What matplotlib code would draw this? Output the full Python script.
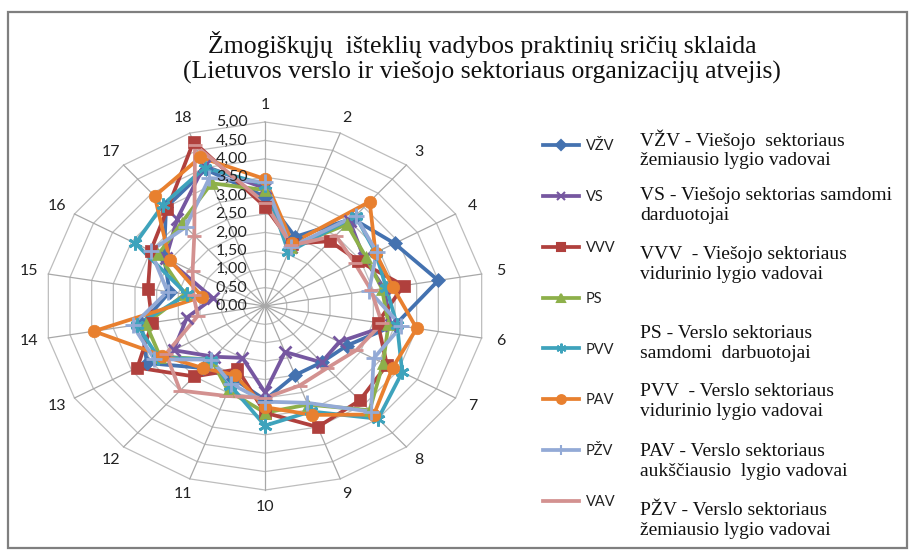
import numpy as np
import matplotlib
matplotlib.use("Agg")
import matplotlib.pyplot as plt
from matplotlib.patches import Rectangle
from matplotlib.lines import Line2D

axes_labels = [str(i) for i in range(1, 19)]
ring_values = [0.0, 0.5, 1.0, 1.5, 2.0, 2.5, 3.0, 3.5, 4.0, 4.5, 5.0]

series_names = ["VŽV", "VS", "VVV", "PS", "PVV", "PAV", "PŽV", "VAV"]

vzv = [2.97, 2.0, 3.1, 3.4, 4.0, 3.0, 2.15, 2.0, 2.0, 2.55, 2.1, 2.2, 3.1, 2.85, 2.2, 2.65, 3.5, 3.95]
vs = [3.2, 1.7, 3.0, 2.6, 2.75, 2.9, 1.95, 2.0, 1.33, 2.35, 1.5, 1.8, 2.4, 1.8, 1.2, 2.6, 3.1, 4.05]
vvv = [2.7, 1.8, 2.3, 2.45, 3.2, 2.6, 3.2, 3.35, 3.5, 2.9, 1.83, 2.5, 3.35, 2.6, 2.7, 3.0, 3.45, 4.75]
ps = [3.15, 1.7, 2.9, 2.65, 2.7, 2.85, 3.1, 3.7, 2.85, 2.9, 2.45, 1.9, 2.75, 2.75, 1.85, 2.8, 2.95, 3.55]
pvv = [3.3, 1.56, 3.2, 2.9, 2.8, 3.05, 3.6, 4.0, 3.05, 3.25, 2.3, 1.9, 2.8, 2.95, 1.8, 3.4, 3.6, 4.0]
pav = [3.45, 1.82, 3.7, 2.9, 2.95, 3.5, 3.35, 3.85, 3.15, 2.75, 2.0, 2.2, 2.7, 3.95, 1.45, 2.5, 3.9, 4.3]
pzv = [3.37, 1.7, 3.2, 2.93, 2.4, 3.15, 2.85, 3.75, 2.8, 2.6, 2.25, 1.9, 2.9, 3.05, 2.25, 3.0, 2.8, 3.7]
vav = [2.8, 1.75, 2.5, 2.35, 2.45, 2.7, 2.4, 2.2, 2.3, 2.5, 2.6, 3.0, 2.6, 1.55, 1.65, 1.9, 2.5, 4.65]

descriptions = [
    "VŽV - Viešojo  sektoriaus\nžemiausio lygio vadovai",
    "VS - Viešojo sektorias samdomi\ndarduotojai",
    "VVV  - Viešojo sektoriaus\nvidurinio lygio vadovai",
    "PS - Verslo sektoriaus\nsamdomi  darbuotojai",
    "PVV  - Verslo sektoriaus\nvidurinio lygio vadovai",
    "PAV - Verslo sektoriaus\naukščiausio  lygio vadovai",
    "PŽV - Verslo sektoriaus\nžemiausio lygio vadovai",
]

colors = ["#4472B0", "#7657A0", "#B0403D", "#8DB04A", "#3EA3BC", "#E8802F", "#93AAD6", "#D39190"]
markers = ["D", "x", "s", "^", (6, 2, 0), "o", "+", "_"]
msizes = [7, 8, 9, 8, 10, 9, 11, 10]

W, H = 917, 560
fig = plt.figure(figsize=(W / 100, H / 100), dpi=100)

# axes placed so that the radar centre sits at (265, 306) px; chart is stretched horizontally
cx, cy, sx, sy = 265, 306, 44.0, 36.8
lim = 6.0
ax = fig.add_axes([(cx - lim * sx) / W, (H - cy - lim * sy) / H, 2 * lim * sx / W, 2 * lim * sy / H])
ax.set_xlim(-lim, lim)
ax.set_ylim(-lim, lim)
ax.axis("off")

n = len(axes_labels)
theta = np.deg2rad(np.arange(n) * 360.0 / n)
st, ct = np.sin(theta), np.cos(theta)

# grid rings and spokes
for r in ring_values[1:]:
    ax.plot(np.append(r * st, r * st[0]), np.append(r * ct, r * ct[0]),
            color="#BDBDBD", lw=0.9, zorder=1)
rmax = ring_values[-1]
for s, c in zip(st, ct):
    ax.plot([0, rmax * s], [0, rmax * c], color="#A8A8A8", lw=0.9, zorder=1)

for lab, s, c in zip(axes_labels, st, ct):
    ax.text(5.45 * s, 5.45 * c, lab, ha="center", va="center", fontsize=11.5,
            family="Lato", color="#222222")

for r in ring_values:
    ax.text(-0.4, r, f"{r:.2f}".replace(".", ","), ha="right", va="center",
            fontsize=11.5, family="Lato", color="#222222", zorder=5)

all_series = [vzv, vs, vvv, ps, pvv, pav, pzv, vav]
for name, vals, col, mk, ms in zip(series_names, all_series, colors, markers, msizes):
    v = np.array(vals)
    xs = np.append(v * st, v[0] * st[0])
    ys = np.append(v * ct, v[0] * ct[0])
    ax.plot(xs, ys, color=col, lw=2.7, zorder=3, label=name)
    thin = mk in ("x", "+", "_") or isinstance(mk, tuple)
    ax.plot(v * st, v * ct, linestyle="none", marker=mk, markersize=ms, color=col,
            markeredgecolor=col, markeredgewidth=2.0 if thin else 0.5, zorder=4)

# legend built from proxy lines
handles = []
for col, mk, ms in zip(colors, markers, msizes):
    handles.append(Line2D([0], [0], color=col, lw=2.7, marker=mk, markersize=ms * 0.7,
                          markeredgecolor=col, markeredgewidth=1.5))
leg = fig.legend(handles, series_names, loc="upper left", bbox_to_anchor=(543 / W, 1 - 139 / H),
                 frameon=False, handlelength=2.5, handletextpad=0.45, labelspacing=2.53,
                 borderpad=0, borderaxespad=0, prop={"family": "Lato", "size": 10.5})
for t in leg.get_texts():
    t.set_color("#222222")

desc_y = [139, 197, 256, 335, 393, 453, 512]
for txt, y in zip(descriptions, desc_y):
    fig.text(640 / W, 1 - (y - 10) / H, txt, ha="left", va="top", fontsize=14,
             family="Liberation Serif", linespacing=1.2, color="#111111")

fig.text(482 / W, 1 - 45 / H, "Žmogiškųjų  išteklių vadybos praktinių sričių sklaida",
         ha="center", va="center", fontsize=18.5, family="Liberation Serif", color="#111111")
fig.text(482 / W, 1 - 72 / H, "(Lietuvos verslo ir viešojo sektoriaus organizacijų atvejis)",
         ha="center", va="center", fontsize=18.5, family="Liberation Serif", color="#111111")

fig.patches.append(Rectangle((8 / W, 1 - 548 / H), 899 / W, 536 / H, transform=fig.transFigure,
                             fill=False, edgecolor="#7F7F7F", lw=1.6))

fig.savefig("out.png", dpi=100)
